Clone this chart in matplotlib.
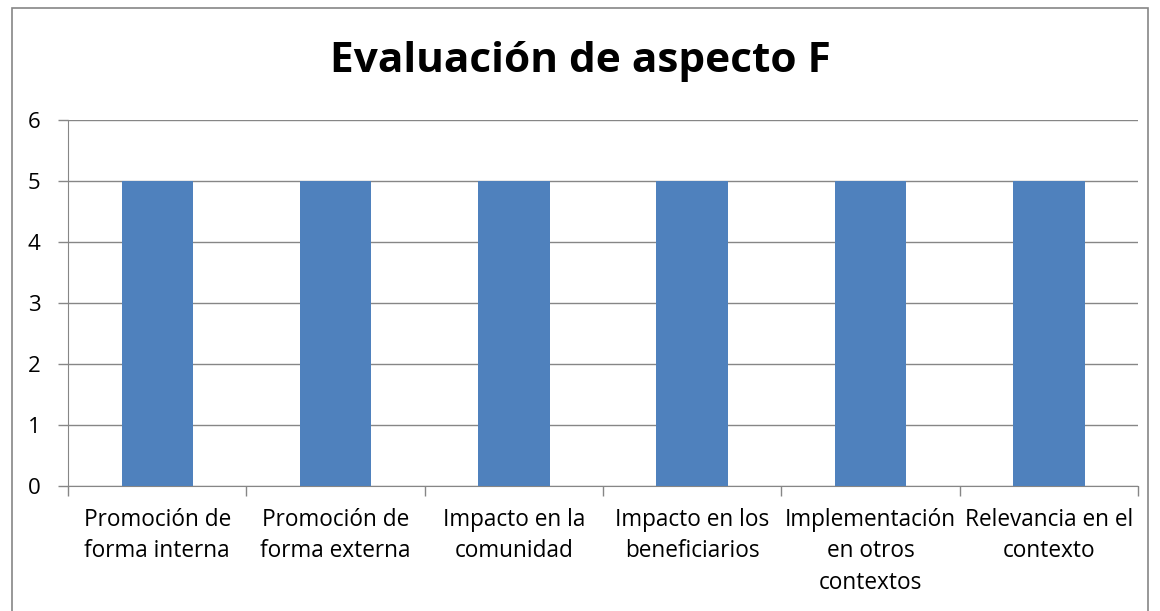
import matplotlib.pyplot as plt
import matplotlib.patches as patches
import numpy as np

categories = ["Promoción de\nforma interna",
              "Promoción de\nforma externa",
              "Impacto en la\ncomunidad",
              "Impacto en los\nbeneficiarios",
              "Implementación\nen otros\ncontextos",
              "Relevancia en el\ncontexto"]
values = [5, 5, 5, 5, 5, 5]
title = "Evaluación de aspecto F"

plt.rcParams['font.family'] = ['Open Sans', 'DejaVu Sans']

fig = plt.figure(figsize=(11.6, 6.11), dpi=100)
ax = fig.add_axes([68 / 1160, 125 / 611, 1070 / 1160, 366 / 611])

# chart border
fig.patches.append(patches.Rectangle((12 / 1160, -0.05), 1136 / 1160, 1.037,
                                     transform=fig.transFigure, fill=False,
                                     edgecolor='#868686', linewidth=1.2))

x = np.arange(len(categories))
ax.bar(x, values, width=0.4, color='#4f81bd', zorder=3)

ax.set_xlim(-0.5, len(categories) - 0.5)
ax.set_ylim(0, 6)
ax.set_yticks(range(0, 7))
ax.grid(axis='y', color='#868686', linewidth=1, zorder=0)

ax.set_xticks(np.arange(-0.5, len(categories), 1))
ax.set_xticklabels([])
ax.set_xticks(x, minor=True)
ax.set_xticklabels(categories, minor=True, fontsize=16.3, linespacing=1.4,
                   multialignment='center')
ax.tick_params(axis='x', which='minor', length=0, pad=16)
ax.tick_params(axis='x', which='major', length=7, color='#868686', width=1)
ax.tick_params(axis='y', length=7, color='#868686', width=1, labelsize=16, pad=13)

for side in ['top', 'right']:
    ax.spines[side].set_visible(False)
for side in ['left', 'bottom']:
    ax.spines[side].set_color('#868686')

fig.text(0.5, 0.900, title, ha='center', va='center', fontsize=30.5, fontweight='bold')

fig.savefig('out.png', dpi=100)
